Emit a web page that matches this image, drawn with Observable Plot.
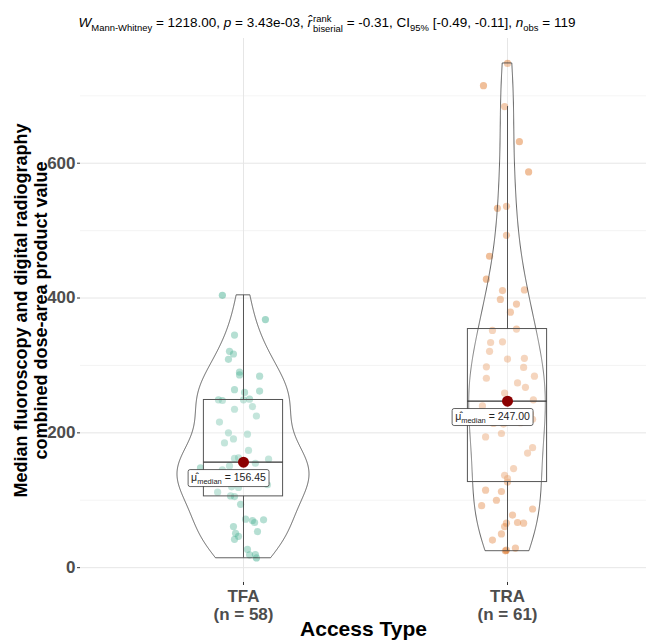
<!DOCTYPE html>
<html><head><meta charset="utf-8">
<script src="https://cdn.jsdelivr.net/npm/d3@7"></script>
<script src="https://cdn.jsdelivr.net/npm/@observablehq/plot@0.6"></script>
<style>
body{margin:0;background:#fff;font-family:"Liberation Sans",Arial,sans-serif;}
#wrap{position:relative;width:646px;height:642px;overflow:hidden;}
#wrap svg{position:absolute;left:0;top:0;}
#sub{position:absolute;top:14px;left:4px;width:646px;text-align:center;font-size:13.5px;color:#000;white-space:nowrap;line-height:1;}
#sub sub{font-size:70%;vertical-align:-0.35em;line-height:0;}
.stk{display:inline-flex;flex-direction:column;vertical-align:middle;font-size:70%;line-height:1.05;text-align:left;margin-left:1px;}
</style></head><body>
<div id="wrap">
<div id="sub"><i>W</i><sub>Mann-Whitney</sub> = 1218.00, <i>p</i> = 3.43e-03, <i>r&#770;</i><span class="stk"><span>rank</span><span>biserial</span></span> = -0.31, CI<sub>95%</sub> [-0.49, -0.11], <i>n</i><sub>obs</sub> = 119</div>
</div>
<script>
// ---- data ----
const groups = ["TFA", "TRA"];
const groupColors = ["#1B9E77", "#D95F02"];
const tfaValues = [404,368,345,321,317,309,290,286,284,264,260,262,249,249,250,248,239,235,225,216,200,198,191,185,174,162,161,163,158,
  154.9,151,148,145,141,137,133,130,127,123,120,119,112,106.5,105.5,94,72,71,70,67,61,53.5,51,46.5,42,27,19,19.5,14.4];
const tfaJitter = [-0.080,0.083,-0.034,-0.053,-0.038,-0.057,-0.015,-0.015,0.061,-0.034,0.004,0.061,-0.095,0.000,0.023,-0.080,0.034,-0.034,0.049,-0.091,-0.057,0.015,-0.038,-0.072,0.019,-0.034,0.095,-0.019,0.000,
  0.045,-0.053,-0.163,-0.080,0.011,-0.125,0.057,-0.027,-0.102,0.091,-0.045,-0.019,-0.098,-0.049,-0.034,-0.011,0.008,0.076,0.034,0.042,-0.038,0.053,-0.030,-0.019,-0.034,0.015,0.023,0.045,0.049];
const traValues = [748,715,684,632,587,536,533,493,462,428,411,412,398,391,379,354,352,335,334,321,310.5,309.5,298,297,284,281,274,267.5,259,249,247,
  240,228,220,216,215,214,213,199,194,178,170,147,137,132,127,115,113,100,92,87,78,67,66,66,61,50,41,29,25,26];
const traJitter = [0.000,-0.091,-0.011,0.045,0.080,-0.004,-0.038,-0.004,-0.068,-0.080,-0.019,0.064,-0.027,0.034,0.011,0.034,-0.057,-0.019,-0.064,-0.068,0.064,0.000,-0.080,0.061,0.102,-0.080,0.038,0.068,-0.011,0.098,0.000,
  -0.095,0.087,0.095,-0.076,0.049,-0.053,-0.015,-0.023,-0.083,0.095,0.076,0.023,-0.011,0.000,0.000,-0.083,-0.023,-0.042,-0.098,0.095,0.019,0.038,-0.004,0.061,-0.011,-0.023,-0.057,0.030,-0.008,-0.004];
const yTicks = [0, 200, 400, 600];
const yMinorTicks = [100, 300, 500, 700];
const xTitle = "Access Type";
const yTitle = "Median fluoroscopy and digital radiography\ncombined dose-area product value";

// ---- derived tables ----
const seriesValues = [tfaValues, traValues];
const seriesJitter = [tfaJitter, traJitter];
const points = [];
seriesValues.forEach((vals, g) => vals.forEach((v, i) => points.push({group: groups[g], pos: g + 1, x: g + 1 + seriesJitter[g][i], value: v})));

const stats = seriesValues.map((vals, g) => {
  const s = vals.slice().sort(d3.ascending);
  const q1 = d3.quantileSorted(s, 0.25), med = d3.quantileSorted(s, 0.5), q3 = d3.quantileSorted(s, 0.75);
  const iqr = q3 - q1;
  const lo = d3.min(s.filter(v => v >= q1 - 1.5 * iqr));
  const hi = d3.max(s.filter(v => v <= q3 + 1.5 * iqr));
  return {group: groups[g], pos: g + 1, q1, med, q3, lo, hi, n: s.length};
});

function kde(vals) {
  const s = vals.slice().sort(d3.ascending);
  const sd = d3.deviation(s);
  const iqr = d3.quantileSorted(s, 0.75) - d3.quantileSorted(s, 0.25);
  const bw = 0.9 * Math.min(sd, iqr / 1.34) * Math.pow(s.length, -0.2);
  const lo = s[0], hi = s[s.length - 1], out = [];
  for (let i = 0; i < 512; i++) {
    const y = lo + (hi - lo) * i / 511;
    let t = 0;
    for (const v of s) { const u = (y - v) / bw; t += Math.exp(-0.5 * u * u); }
    out.push({y, d: t / (s.length * bw * Math.sqrt(2 * Math.PI))});
  }
  return out;
}
const dens = seriesValues.map(kde);
const maxD = d3.max(dens.flat(), d => d.d);
const violin = [];
dens.forEach((arr, g) => arr.forEach(p => violin.push({group: groups[g], pos: g + 1, y: p.y, hw: 0.25 * p.d / maxD})));

const fmt = d3.format(".2f");
const font = "Liberation Sans, Arial, sans-serif";

const chart = Plot.plot({
  width: 646, height: 642,
  marginLeft: 80, marginRight: 0, marginTop: 38, marginBottom: 60,
  style: {fontFamily: font, background: "transparent", overflow: "visible"},
  x: {domain: [0.3826, 2.5265], axis: null},
  y: {domain: [-22, 785], axis: null},
  marks: [
    Plot.ruleY(yMinorTicks, {stroke: "#ececec", strokeWidth: 0.6}),
    Plot.ruleY(yTicks, {stroke: "#e6e6e6", strokeWidth: 1}),
    Plot.ruleX([1, 2], {stroke: "#e6e6e6", strokeWidth: 1}),
    Plot.axisY(yTicks, {tickSize: 3, tickPadding: 2, stroke: "#333", fill: "#4d4d4d", fontSize: 17, fontWeight: "bold", tickFormat: d => d}),
    Plot.axisX([1, 2], {tickSize: 3, tickPadding: 3, stroke: "#333", fill: "#4d4d4d", fontSize: 17, fontWeight: "bold", lineHeight: 1.08,
      tickFormat: i => `${groups[i - 1]}\n(n = ${seriesValues[i - 1].length})`}),
    Plot.text([xTitle], {frameAnchor: "bottom", dy: 53, fontSize: 21, fontWeight: "bold", fill: "#000"}),
    Plot.text([yTitle], {frameAnchor: "left", textAnchor: "middle", dx: -50, rotate: -90, fontSize: 18, fontWeight: "bold", fill: "#000", lineHeight: 1.15}),
    Plot.dot(points, {x: "x", y: "value", r: 3.6, fill: d => groupColors[d.pos - 1], fillOpacity: 0.4, stroke: "none"}),
    Plot.areaX(violin, {y: "y", x1: d => d.pos - d.hw, x2: d => d.pos + d.hw, z: "group", fill: "white", fillOpacity: 0.2, stroke: "#3a3a3a", strokeWidth: 0.8}),
    Plot.rect(stats, {x1: d => d.pos - 0.15, x2: d => d.pos + 0.15, y1: "q1", y2: "q3", fill: "white", fillOpacity: 0.2, stroke: "#555", strokeWidth: 1}),
    Plot.ruleY(stats, {y: "med", x1: d => d.pos - 0.15, x2: d => d.pos + 0.15, stroke: "#333", strokeWidth: 1.2}),
    Plot.ruleX(stats, {x: "pos", y1: "lo", y2: "q1", stroke: "#444", strokeWidth: 0.9}),
    Plot.ruleX(stats, {x: "pos", y1: "q3", y2: "hi", stroke: "#444", strokeWidth: 0.9}),
    Plot.dot(stats, {x: "pos", y: "med", r: 5.5, fill: "#8B0000", stroke: "none"}),
    Plot.text(stats, {x: "pos", y: "med", text: d => "μ\u0302median = " + fmt(d.med), dx: -15, dy: 15, fontSize: 10.5, fill: "#222"})
  ]
});
const wrap = document.getElementById("wrap");
wrap.insertBefore(chart, wrap.firstChild);

// format the centrality labels (subscript + framed box)
const ns = "http://www.w3.org/2000/svg";
const labelTexts = Array.from(chart.querySelectorAll("text")).filter(t => t.textContent.indexOf("median =") >= 0);
labelTexts.forEach((t, i) => {
  const d = stats[i];
  while (t.firstChild) t.removeChild(t.firstChild);
  const a = document.createElementNS(ns, "tspan"); a.textContent = "μ\u0302";
  const b = document.createElementNS(ns, "tspan"); b.textContent = "median"; b.setAttribute("font-size", "7.5"); b.setAttribute("dy", "3");
  const c = document.createElementNS(ns, "tspan"); c.textContent = " = " + fmt(d.med); c.setAttribute("dy", "-3");
  t.append(a, b, c);
  const bb = t.getBBox();
  const r = document.createElementNS(ns, "rect");
  r.setAttribute("x", bb.x - 3); r.setAttribute("y", bb.y - 1);
  r.setAttribute("width", bb.width + 6); r.setAttribute("height", bb.height + 2);
  r.setAttribute("rx", 2); r.setAttribute("fill", "white"); r.setAttribute("stroke", "#222"); r.setAttribute("stroke-width", "0.7");
  const tr = t.getAttribute("transform"); if (tr) r.setAttribute("transform", tr);
  t.parentNode.insertBefore(r, t);
});
</script>
</body></html>
